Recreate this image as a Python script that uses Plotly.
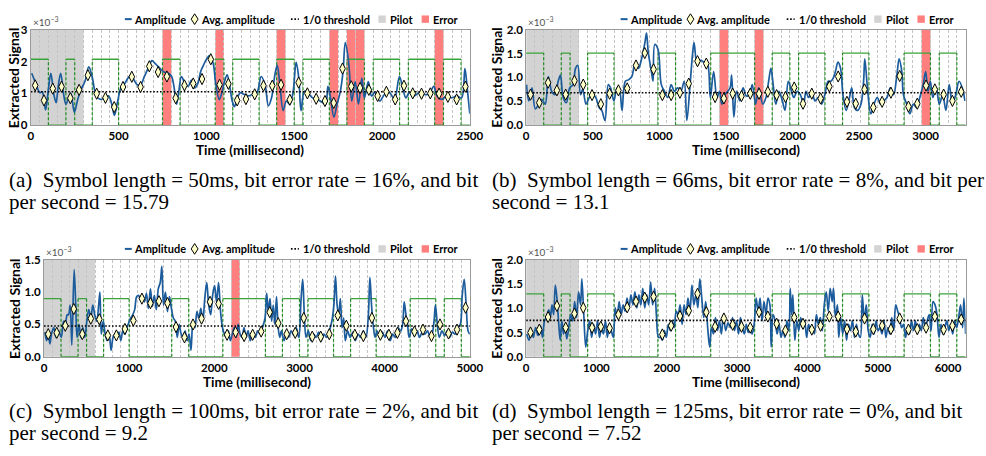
import plotly.graph_objects as go

FIG_W, FIG_H = 986, 456
FONT = "Lato"
SERIF = "Liberation Serif"
BLUE = "#1c5c9c"
GREEN = "#3aa33a"
GREEN_D = "#1e8c1e"
GRID = "#c4c4c4"
FRAME = "#9a9a9a"
PILOT_C = "#d3d3d3"
ERROR_C = "#ff7f7f"
DIAMOND_FILL = "#ffffc8"
PILOT_SYMBOLS = 6

# ---------------- data (signal values in units of 1e-3) ----------------
# (a) 50 ms symbols
A_SYMBOL_MS = 50
A_DURATION = 2500
A_BITS = [1,1,0,0,1,0,0,1,1,1, 0,0,0,0,0,1,1,0,0,0, 0,1,0,1,1,1,0,0,1,1,
          0,1,1,1,0,0,1,1,0,1, 1,1,0,1,1,1,0,1,1,0]
A_AVG = [1.25,0.78,1.15,1.21,0.85,1.11,1.57,0.99,0.86,0.57,
         1.20,1.52,1.20,1.85,1.67,1.53,0.85,1.25,1.31,1.45,
         2.07,1.27,1.30,0.78,0.82,0.97,1.24,1.24,1.27,0.80,
         1.34,1.00,0.83,0.76,0.70,1.78,1.22,1.17,1.11,0.92,
         1.05,0.81,1.24,1.00,0.99,1.00,0.99,0.89,0.81,1.21]
A_AMP = [(5,1.63),(28,1.32),(51,1.02),(65,1.05),(84,0.48),(99,1.07),(114,1.63),(131,0.97),
         (144,0.71),(155,1.17),(170,1.63),(187,0.97),(200,0.66),(215,0.86),(228,0.99),(248,0.41),
         (267,0.81),(286,1.12),(308,1.37),(330,1.83),(349,1.53),(373,0.92),(397,0.81),(420,0.86),
         (442,0.92),(461,0.66),(476,0.31),(495,0.76),(513,1.17),(536,1.32),(554,1.48),(573,1.58),
         (588,1.42),(606,1.27),(625,1.27),(647,1.53),(672,1.83),(690,2.03),(709,1.93),(728,1.83),
         (756,1.68),(784,1.63),(802,1.53),(815,1.22),(830,0.66),(843,1.07),(858,1.53),(877,1.32),
         (896,1.22),(914,1.42),(933,1.17),(952,1.32),(967,1.68),(983,1.88),(1002,2.09),(1021,2.19),
         (1039,1.93),(1054,1.27),(1073,0.81),(1088,1.02),(1103,1.37),(1118,1.58),(1133,1.22),
         (1147,0.76),(1159,0.58),(1176,0.86),(1194,1.02),(1213,0.97),(1241,0.92),(1269,0.99),
         (1288,1.02),(1312,1.53),(1334,1.27),(1353,0.61),(1371,0.86),(1390,1.58),(1403,1.88),
         (1418,1.32),(1437,0.46),(1455,0.76),(1474,0.66),(1493,1.02),(1511,1.98),(1526,1.48),
         (1539,0.46),(1558,1.07),(1577,1.02),(1604,0.86),(1633,0.81),(1661,0.71),(1679,0.66),
         (1692,1.22),(1707,0.86),(1726,0.25),(1744,0.66),(1763,1.07),(1778,1.68),(1791,2.59),
         (1810,1.98),(1828,0.76),(1847,1.37),(1866,0.66),(1885,1.48),(1900,0.86),(1922,1.37),
         (1940,0.92),(1959,1.02),(1987,0.76),(2015,0.97),(2043,1.02),(2071,0.81),(2099,1.53),
         (2118,1.17),(2136,0.86),(2155,1.02),(2183,0.92),(2211,1.02),(2239,0.97),(2267,0.97),
         (2295,1.22),(2313,0.92),(2341,0.81),(2369,0.92),(2397,0.86),(2425,0.92),(2453,0.86),
         (2472,1.78),(2485,1.17),(2500,0.36)]
A_THRESHOLD = 1.05
A_HIGH = 2.07
A_ERRORS = [15, 21, 28, 34, 36, 37, 46]
A_YTICKS = [0, 1, 2, 3]
A_YTICKTEXT = ["0", "1", "2", "3"]
A_CAPTION = ["(a)\u2002Symbol length = 50ms, bit error rate = 16%, and bit",
             "per second = 15.79"]

# (b) 66 ms symbols
B_SYMBOL_MS = 66
B_DURATION = 3300
B_BITS = [1,1,0,0,1,0,0,1,1,1, 0,0,0,0,0,1,1,0,0,0, 0,1,1,1,1,1,0,0,1,1,
          0,1,1,1,0,0,1,1,1,0, 0,0,0,1,1,1,0,1,1,0]
B_AVG = [0.64,0.47,0.89,0.73,0.64,0.93,0.85,0.63,0.44,0.66,
         0.73,0.77,1.25,1.51,1.17,0.63,0.63,0.68,0.87,1.34,
         1.29,0.59,0.56,0.66,0.61,0.66,0.66,0.70,0.63,0.59,
         0.79,0.45,0.66,0.56,0.81,1.02,0.49,0.45,0.75,0.37,
         0.49,0.68,1.03,0.39,0.45,0.83,0.75,0.64,0.51,0.70]
B_AMP = [(3,0.85),(20,0.51),(44,0.78),(69,0.34),(94,0.44),(118,0.54),(143,0.44),(167,1.02),
         (192,0.71),(216,0.64),(241,0.92),(258,1.05),(278,0.58),(302,0.47),(327,0.78),(352,0.85),
         (371,1.19),(388,1.25),(408,0.64),(425,0.75),(450,0.44),(474,0.58),(499,0.64),(523,0.58),
         (548,0.37),(568,0.31),(592,0.10),(617,0.85),(634,0.78),(659,0.51),(683,0.78),(700,0.75),
         (720,0.31),(745,0.92),(769,0.95),(794,1.02),(818,1.29),(843,1.19),(867,1.39),(892,1.73),
         (904,1.93),(917,1.53),(941,1.12),(953,0.92),(966,1.69),(990,1.59),(1015,0.85),(1039,0.71),
         (1064,0.58),(1089,0.85),(1113,0.71),(1138,0.78),(1162,0.71),(1187,0.92),(1207,0.10),
         (1231,0.85),(1251,1.53),(1261,1.73),(1285,1.25),(1310,1.36),(1334,1.32),(1359,1.32),
         (1383,0.58),(1408,1.12),(1433,0.58),(1452,0.71),(1469,0.44),(1494,0.64),(1531,0.78),
         (1543,1.05),(1560,0.17),(1580,0.71),(1605,0.51),(1629,0.78),(1654,0.61),(1678,0.64),
         (1698,0.85),(1723,0.44),(1747,0.78),(1777,0.44),(1801,0.58),(1821,0.92),(1838,1.19),
         (1855,0.85),(1875,0.44),(1899,0.71),(1924,0.51),(1944,0.31),(1968,0.92),(1986,0.78),
         (2010,0.58),(2035,0.71),(2059,0.64),(2084,0.44),(2101,0.71),(2121,0.58),(2145,0.68),
         (2170,0.51),(2194,0.58),(2219,0.44),(2243,0.64),(2268,0.92),(2288,0.92),(2305,0.98),
         (2322,1.12),(2342,1.32),(2361,1.19),(2379,0.64),(2403,0.31),(2428,0.58),(2445,0.78),
         (2465,0.37),(2489,0.31),(2514,0.44),(2534,0.92),(2543,1.39),(2563,0.78),(2588,0.24),
         (2612,0.44),(2637,0.58),(2661,0.44),(2686,0.51),(2710,0.58),(2735,0.78),(2759,0.64),
         (2784,1.05),(2801,1.39),(2821,1.12),(2833,0.64),(2858,0.44),(2882,0.24),(2907,0.44),
         (2931,0.37),(2956,0.58),(2981,0.85),(3000,1.12),(3017,0.71),(3035,0.92),(3054,0.58),
         (3079,0.78),(3103,0.44),(3128,0.64),(3152,0.31),(3177,0.85),(3201,0.44),(3226,0.64),
         (3251,0.92),(3275,0.78),(3295,0.51)]
B_THRESHOLD = 0.68
B_HIGH = 1.51
B_ERRORS = [22, 26, 45]
B_YTICKS = [0, 0.5, 1.0, 1.5, 2.0]
B_YTICKTEXT = ["0.0", "0.5", "1.0", "1.5", "2.0"]
B_CAPTION = ["(b)\u2002Symbol length = 66ms, bit error rate = 8%, and bit per",
             "second = 13.1"]

# (c) 100 ms symbols
C_SYMBOL_MS = 100
C_DURATION = 5000
C_BITS = B_BITS[:]
C_AVG = [0.35,0.37,0.48,0.74,0.35,0.59,0.58,0.33,0.33,0.43,
         0.56,0.90,0.83,0.86,0.83,0.46,0.30,0.50,0.59,0.85,
         0.82,0.34,0.38,0.32,0.34,0.39,0.69,0.52,0.35,0.37,
         0.60,0.31,0.31,0.35,0.64,0.48,0.34,0.32,0.60,0.34,
         0.34,0.37,0.55,0.39,0.42,0.32,0.50,0.36,0.42,0.76]
C_AMP = [(11,0.38),(30,0.25),(50,0.35),(69,0.20),(88,0.35),(115,0.45),(142,0.30),(173,0.40),
         (203,0.30),(230,0.55),(250,0.50),(273,0.65),(288,0.65),(307,0.80),(327,0.18),(354,1.35),
         (373,0.80),(388,0.30),(411,0.50),(434,0.30),(457,0.45),(480,0.30),(503,0.55),(526,0.73),
         (550,0.60),(573,0.80),(596,0.65),(619,0.55),(642,0.80),(657,1.00),(673,0.35),(696,0.55),
         (719,0.35),(742,0.25),(765,0.35),(788,0.10),(811,0.30),(834,0.35),(857,0.30),(880,0.38),
         (903,0.25),(926,0.40),(949,0.35),(973,0.45),(996,0.53),(1019,0.60),(1042,0.65),(1065,0.73),
         (1088,0.93),(1111,0.95),(1134,0.88),(1157,0.95),(1180,0.85),(1203,0.98),(1226,0.75),
         (1250,1.05),(1273,0.78),(1296,0.95),(1319,0.73),(1342,1.05),(1365,1.15),(1384,1.40),
         (1403,0.80),(1426,1.00),(1450,0.70),(1473,0.93),(1496,0.75),(1519,0.60),(1542,0.55),
         (1565,0.30),(1588,0.50),(1611,0.35),(1634,0.30),(1657,0.40),(1680,0.25),(1703,0.35),
         (1726,0.10),(1750,0.55),(1773,0.45),(1796,0.70),(1819,0.60),(1842,0.75),(1865,0.55),
         (1888,0.90),(1911,1.15),(1934,0.80),(1957,0.65),(1980,0.95),(2003,1.10),(2026,0.85),
         (2050,1.15),(2073,0.70),(2096,0.45),(2119,0.35),(2142,0.30),(2165,0.40),(2188,0.25),
         (2211,0.35),(2234,0.45),(2257,0.30),(2280,0.50),(2303,0.35),(2326,0.30),(2349,0.45),
         (2372,0.30),(2396,0.40),(2423,0.25),(2450,0.38),(2480,0.30),(2511,0.40),(2538,0.35),
         (2565,0.45),(2596,0.60),(2615,0.98),(2634,0.70),(2654,0.90),(2673,0.55),(2692,0.80),
         (2711,0.50),(2730,0.93),(2750,0.45),(2769,0.30),(2788,0.40),(2819,0.25),(2846,0.38),
         (2873,0.30),(2903,0.40),(2934,0.33),(2961,0.45),(2992,0.30),(3019,0.90),(3038,1.20),
         (3057,0.65),(3077,0.30),(3103,0.40),(3134,0.25),(3165,0.35),(3196,0.30),(3226,0.38),
         (3257,0.25),(3288,0.35),(3319,0.30),(3350,0.40),(3380,0.55),(3404,0.80),(3423,1.25),
         (3442,0.80),(3461,0.65),(3480,0.90),(3500,0.45),(3519,0.60),(3538,0.25),(3565,0.40),
         (3596,0.30),(3627,0.38),(3657,0.25),(3688,0.35),(3719,0.30),(3750,0.40),(3780,0.30),
         (3807,0.60),(3827,1.23),(3846,0.80),(3865,0.50),(3888,0.30),(3911,0.40),(3942,0.30),
         (3973,0.38),(4003,0.30),(4034,0.40),(4065,0.25),(4096,0.35),(4127,0.30),(4157,0.45),
         (4188,0.40),(4211,0.50),(4230,0.85),(4250,0.65),(4269,0.50),(4288,0.30),(4319,0.43),
         (4350,0.33),(4380,0.40),(4411,0.30),(4442,0.38),(4473,0.35),(4503,0.40),(4534,0.30),
         (4557,0.35),(4580,0.55),(4596,0.80),(4619,0.50),(4642,0.30),(4673,0.40),(4704,0.33),
         (4734,0.40),(4765,0.30),(4796,0.38),(4827,0.35),(4857,0.45),(4888,0.50),(4911,0.95),
         (4934,1.20),(4957,0.80),(4980,0.40),(5000,0.35)]
C_THRESHOLD = 0.475
C_HIGH = 0.90
C_ERRORS = [22]
C_YTICKS = [0, 0.5, 1.0, 1.5]
C_YTICKTEXT = ["0.0", "0.5", "1.0", "1.5"]
C_CAPTION = ["(c)\u2002Symbol length = 100ms, bit error rate = 2%, and bit",
             "per second = 9.2"]

# (d) 125 ms symbols
D_SYMBOL_MS = 125
D_DURATION = 6250
D_BITS = B_BITS[:]
D_AVG = [0.50,0.56,0.82,1.05,0.60,0.89,1.01,0.60,0.62,0.59,
         0.87,1.02,1.14,1.22,1.24,0.46,0.64,0.84,0.95,1.30,
         0.92,0.62,0.79,0.66,0.62,0.60,0.92,0.83,0.68,0.54,
         0.81,0.68,0.56,0.64,0.83,0.83,0.57,0.52,0.79,0.57,
         0.64,0.57,0.79,0.56,0.57,0.60,0.83,0.56,0.64,0.77]
D_AMP = [(9,0.47),(42,0.34),(75,0.54),(103,0.40),(135,0.60),(168,0.44),(205,0.64),(233,0.40),
         (261,0.74),(289,0.81),(322,0.97),(345,0.81),(368,1.07),(391,0.87),(415,1.48),(438,1.21),
         (461,0.74),(485,0.34),(508,0.74),(531,0.47),(555,0.64),(578,0.37),(601,0.54),(634,0.87),
         (662,0.74),(690,1.14),(718,0.81),(746,1.34),(774,1.07),(792,1.61),(820,0.87),(848,0.20),
         (876,0.54),(904,0.74),(932,0.40),(960,0.67),(988,0.47),(1016,0.74),(1044,0.40),(1072,0.60),
         (1100,0.47),(1128,0.74),(1156,0.40),(1184,0.67),(1212,0.54),(1240,0.40),(1267,1.01),
         (1295,0.81),(1323,1.14),(1351,0.87),(1379,1.07),(1407,0.94),(1435,1.21),(1463,1.01),
         (1491,1.28),(1519,1.07),(1547,1.34),(1575,1.01),(1603,1.28),(1631,1.07),(1659,1.41),
         (1687,1.01),(1715,1.28),(1743,1.07),(1771,1.54),(1799,1.07),(1827,1.41),(1855,0.81),
         (1883,0.40),(1911,0.40),(1938,0.34),(1966,0.54),(1994,0.40),(2022,0.67),(2050,0.54),
         (2078,0.74),(2106,0.60),(2134,0.94),(2162,0.87),(2190,1.07),(2218,0.67),(2246,1.07),
         (2274,0.87),(2302,1.21),(2330,0.94),(2358,1.48),(2386,1.07),(2414,1.28),(2442,1.01),
         (2470,1.61),(2498,1.21),(2526,0.81),(2554,1.14),(2582,0.60),(2610,0.20),(2637,0.60),
         (2665,0.47),(2693,0.81),(2721,0.54),(2749,0.74),(2777,0.47),(2805,0.87),(2838,0.54),
         (2872,0.70),(2908,0.60),(2936,0.81),(2964,0.54),(2992,0.74),(3020,0.47),(3048,0.81),
         (3076,0.60),(3104,0.47),(3131,0.67),(3159,0.50),(3187,0.60),(3215,0.47),(3243,0.67),
         (3271,1.21),(3299,0.94),(3327,1.21),(3355,0.74),(3383,1.14),(3411,0.87),(3439,1.21),
         (3467,1.07),(3485,0.20),(3513,0.87),(3541,0.74),(3569,0.47),(3597,0.67),(3625,0.40),
         (3653,0.54),(3681,0.40),(3709,0.74),(3737,0.54),(3756,1.41),(3775,0.87),(3793,1.28),
         (3821,0.34),(3849,0.74),(3877,0.54),(3905,0.81),(3933,0.60),(3961,0.74),(3989,0.40),
         (4017,0.67),(4044,0.54),(4072,0.60),(4100,0.47),(4128,0.87),(4156,0.67),(4184,0.81),
         (4212,0.54),(4240,1.07),(4268,1.34),(4296,0.94),(4324,1.41),(4352,1.14),(4371,1.41),
         (4399,0.81),(4427,1.07),(4446,0.40),(4474,0.81),(4502,0.47),(4529,0.74),(4557,0.34),
         (4585,0.67),(4613,0.54),(4641,0.74),(4669,0.40),(4697,0.67),(4725,0.47),(4753,0.40),
         (4781,1.28),(4809,0.74),(4837,1.07),(4865,0.54),(4893,0.40),(4921,0.67),(4949,0.47),
         (4977,0.74),(5005,0.54),(5033,0.60),(5061,0.47),(5089,0.74),(5117,0.40),(5144,0.60),
         (5172,0.47),(5200,0.81),(5228,0.54),(5256,1.07),(5284,0.94),(5312,0.81),(5340,0.60),
         (5368,0.67),(5396,0.40),(5424,0.60),(5452,0.47),(5480,0.74),(5508,0.54),(5536,0.74),
         (5564,0.47),(5592,0.67),(5620,0.54),(5648,0.81),(5676,0.60),(5704,0.74),(5732,0.87),
         (5759,0.54),(5787,1.14),(5815,1.07),(5843,0.87),(5871,0.40),(5899,0.67),(5927,0.47),
         (5955,0.60),(5983,0.74),(6011,0.54),(6039,0.67),(6067,0.47),(6095,0.74),(6123,0.60),
         (6151,0.81),(6179,1.07),(6207,0.60),(6226,1.21),(6250,0.47)]
D_THRESHOLD = 0.75
D_HIGH = 1.30
D_ERRORS = []
D_YTICKS = [0, 0.5, 1.0, 1.5, 2.0]
D_YTICKTEXT = ["0.0", "0.5", "1.0", "1.5", "2.0"]
D_CAPTION = ["(d)\u2002Symbol length = 125ms, bit error rate = 0%, and bit",
             "per second = 7.52"]

# ---------------- layout geometry (pixels) ----------------
PANELS = [
    dict(sym=A_SYMBOL_MS, dur=A_DURATION, bits=A_BITS, avg=A_AVG, amp=A_AMP, thr=A_THRESHOLD,
         high=A_HIGH, err=A_ERRORS, yt=A_YTICKS, ytt=A_YTICKTEXT, ymax=3, xdt=500, cap=A_CAPTION,
         box=(28.3, 475.0, 23.3, 121.7), legy=12.5, capx=5, capy=(178, 201), ylab=11),
    dict(sym=B_SYMBOL_MS, dur=B_DURATION, bits=B_BITS, avg=B_AVG, amp=B_AMP, thr=B_THRESHOLD,
         high=B_HIGH, err=B_ERRORS, yt=B_YTICKS, ytt=B_YTICKTEXT, ymax=2, xdt=500, cap=B_CAPTION,
         box=(532.3, 979.5, 23.3, 121.7), legy=12.5, capx=497, capy=(178, 201), ylab=502),
    dict(sym=C_SYMBOL_MS, dur=C_DURATION, bits=C_BITS, avg=C_AVG, amp=C_AMP, thr=C_THRESHOLD,
         high=C_HIGH, err=C_ERRORS, yt=C_YTICKS, ytt=C_YTICKTEXT, ymax=1.5, xdt=1000, cap=C_CAPTION,
         box=(41.7, 475.0, 260.3, 360.0), legy=249, capx=5, capy=(416, 439), ylab=11),
    dict(sym=D_SYMBOL_MS, dur=D_DURATION, bits=D_BITS, avg=D_AVG, amp=D_AMP, thr=D_THRESHOLD,
         high=D_HIGH, err=D_ERRORS, yt=D_YTICKS, ytt=D_YTICKTEXT, ymax=2, xdt=1000, cap=D_CAPTION,
         box=(532.3, 979.5, 260.3, 360.0), legy=249, capx=497, capy=(416, 439), ylab=502),
]


def fx(p):
    return p / FIG_W


def fy(p):
    return 1 - p / FIG_H


fig = go.Figure()
axes = {}
shapes = []
annotations = []
tick_font = dict(family=FONT, size=11.5, color="black", weight="bold")

for i, p in enumerate(PANELS, start=1):
    xa, ya = ("x", "y") if i == 1 else (f"x{i}", f"y{i}")
    xname, yname = ("xaxis", "yaxis") if i == 1 else (f"xaxis{i}", f"yaxis{i}")
    L, R, T, B = p["box"]
    sym, bits, high = p["sym"], p["bits"], p["high"]

    # transmitted bits: horizontal segments (solid) + transitions (dashed)
    hx, hy = [], []
    k = 0
    while k < len(bits):
        j = k
        while j + 1 < len(bits) and bits[j + 1] == bits[k]:
            j += 1
        lvl = high if bits[k] else 0
        hx += [k * sym, (j + 1) * sym, None]
        hy += [lvl, lvl, None]
        k = j + 1
    vx, vy = [], []
    for k in range(1, len(bits)):
        if bits[k] != bits[k - 1]:
            vx += [k * sym, k * sym, None]
            vy += [0, high, None]
    common = dict(xaxis=xa, yaxis=ya, showlegend=False, hoverinfo="skip")
    fig.add_trace(go.Scatter(x=hx, y=hy, mode="lines", line=dict(color=GREEN, width=1.3), **common))
    fig.add_trace(go.Scatter(x=vx, y=vy, mode="lines",
                             line=dict(color=GREEN_D, width=1.2, dash="3px,2px"), **common))
    fig.add_trace(go.Scatter(x=[t for t, _ in p["amp"]], y=[v for _, v in p["amp"]], mode="lines",
                             line=dict(color=BLUE, width=1.7, shape="spline", smoothing=1.0),
                             **common))
    fig.add_trace(go.Scatter(x=[0, p["dur"]], y=[p["thr"], p["thr"]], mode="lines",
                             line=dict(color="black", width=1.6, dash="1.6px,1.8px"), **common))
    fig.add_trace(go.Scatter(x=[(k + 0.5) * sym for k in range(len(p["avg"]))], y=p["avg"],
                             mode="markers",
                             marker=dict(symbol="diamond-tall", size=8, color=DIAMOND_FILL,
                                         line=dict(color="black", width=1)), **common))

    # pilot and error regions
    shapes.append(dict(type="rect", xref=xa, yref=f"{ya} domain", x0=0, x1=PILOT_SYMBOLS * sym,
                       y0=0, y1=1, fillcolor=PILOT_C, line=dict(width=0), layer="below"))
    for e in p["err"]:
        shapes.append(dict(type="rect", xref=xa, yref=f"{ya} domain", x0=e * sym, x1=(e + 1) * sym,
                           y0=0, y1=1, fillcolor=ERROR_C, line=dict(width=0), layer="below"))

    major_on_symbols = (p["xdt"] % sym == 0)
    axes[xname] = dict(domain=[fx(L), fx(R)], range=[0, p["dur"]], anchor=ya,
                       tickmode="linear", tick0=0, dtick=p["xdt"], ticks="",
                       showgrid=major_on_symbols, gridcolor=GRID, griddash="3px,2px", gridwidth=1,
                       minor=dict(tickmode="linear", tick0=0, dtick=sym, showgrid=True,
                                  gridcolor=GRID, griddash="3px,2px", gridwidth=1, ticks=""),
                       showline=True, mirror=True, linecolor=FRAME, linewidth=1, zeroline=False,
                       tickfont=tick_font, fixedrange=True)
    axes[yname] = dict(domain=[fy(B), fy(T)], range=[0, p["ymax"]], anchor=xa,
                       tickmode="array", tickvals=p["yt"], ticktext=p["ytt"], ticks="",
                       showgrid=False, zeroline=False, showline=True, mirror=True,
                       linecolor=FRAME, linewidth=1, tickfont=tick_font, fixedrange=True)

    # axis titles and exponent
    annotations.append(dict(text="Time (millisecond)", x=fx((L + R) / 2), y=fy(B + 25.5),
                            xref="paper", yref="paper", showarrow=False, xanchor="center",
                            yanchor="middle", borderpad=0,
                            font=dict(family=FONT, size=13.5, color="black", weight="bold")))
    annotations.append(dict(text="Extracted Signal", x=fx(p["ylab"]), y=fy((T + B) / 2),
                            xref="paper", yref="paper", showarrow=False, textangle=-90,
                            xanchor="center", yanchor="middle", borderpad=0,
                            font=dict(family=FONT, size=14, color="black", weight="bold")))
    annotations.append(dict(text="×10<sup>−3</sup>", x=fx(L + 1), y=fy(T - 0.5), xref="paper",
                            yref="paper", showarrow=False, xanchor="left", yanchor="bottom",
                            borderpad=0, font=dict(family=FONT, size=10, color="#555555")))

    # captions
    for line, cy in zip(p["cap"], p["capy"]):
        annotations.append(dict(text=line, x=fx(p["capx"]), y=fy(cy), xref="paper", yref="paper",
                                showarrow=False, xanchor="left", yanchor="middle", borderpad=0,
                                font=dict(family=SERIF, size=21, color="black")))

    # legend (drawn per panel, aligned to the panel's right edge)
    ly = p["legy"]
    leg_font = dict(family=FONT, size=11, color="black", weight="bold")
    items = [("Amplitude", R - 343), ("Avg. amplitude", R - 275), ("1/0 threshold", R - 171),
             ("Pilot", R - 82), ("Error", R - 38)]
    for txt, x0 in items:
        annotations.append(dict(text=txt, x=fx(x0), y=fy(ly), xref="paper", yref="paper",
                                showarrow=False, xanchor="left", yanchor="middle", borderpad=0,
                                font=leg_font))
    shapes.append(dict(type="line", xref="paper", yref="paper", x0=fx(R - 351), x1=fx(R - 344),
                       y0=fy(ly), y1=fy(ly), line=dict(color=BLUE, width=2)))
    cx = R - 280
    shapes.append(dict(type="path", xref="paper", yref="paper",
                       path=(f"M {fx(cx)},{fy(ly - 5.5)} L {fx(cx + 3.5)},{fy(ly)} "
                             f"L {fx(cx)},{fy(ly + 5.5)} L {fx(cx - 3.5)},{fy(ly)} Z"),
                       fillcolor=DIAMOND_FILL, line=dict(color="black", width=1)))
    shapes.append(dict(type="line", xref="paper", yref="paper", x0=fx(R - 182), x1=fx(R - 174),
                       y0=fy(ly), y1=fy(ly), line=dict(color="black", width=1.6, dash="1.6px,1.8px")))
    shapes.append(dict(type="rect", xref="paper", yref="paper", x0=fx(R - 93), x1=fx(R - 85.5),
                       y0=fy(ly + 3.8), y1=fy(ly - 3.8), fillcolor=PILOT_C, line=dict(width=0)))
    shapes.append(dict(type="rect", xref="paper", yref="paper", x0=fx(R - 49), x1=fx(R - 41.5),
                       y0=fy(ly + 3.8), y1=fy(ly - 3.8), fillcolor=ERROR_C, line=dict(width=0)))

fig.update_layout(width=FIG_W, height=FIG_H, margin=dict(l=0, r=0, t=0, b=0),
                  paper_bgcolor="white", plot_bgcolor="white", showlegend=False,
                  shapes=shapes, annotations=annotations, **axes)
fig.write_html("out.html", config={"displayModeBar": False},
               post_script="document.body.style.margin='0';document.body.style.padding='0';"
                           "document.body.style.overflow='hidden';")
